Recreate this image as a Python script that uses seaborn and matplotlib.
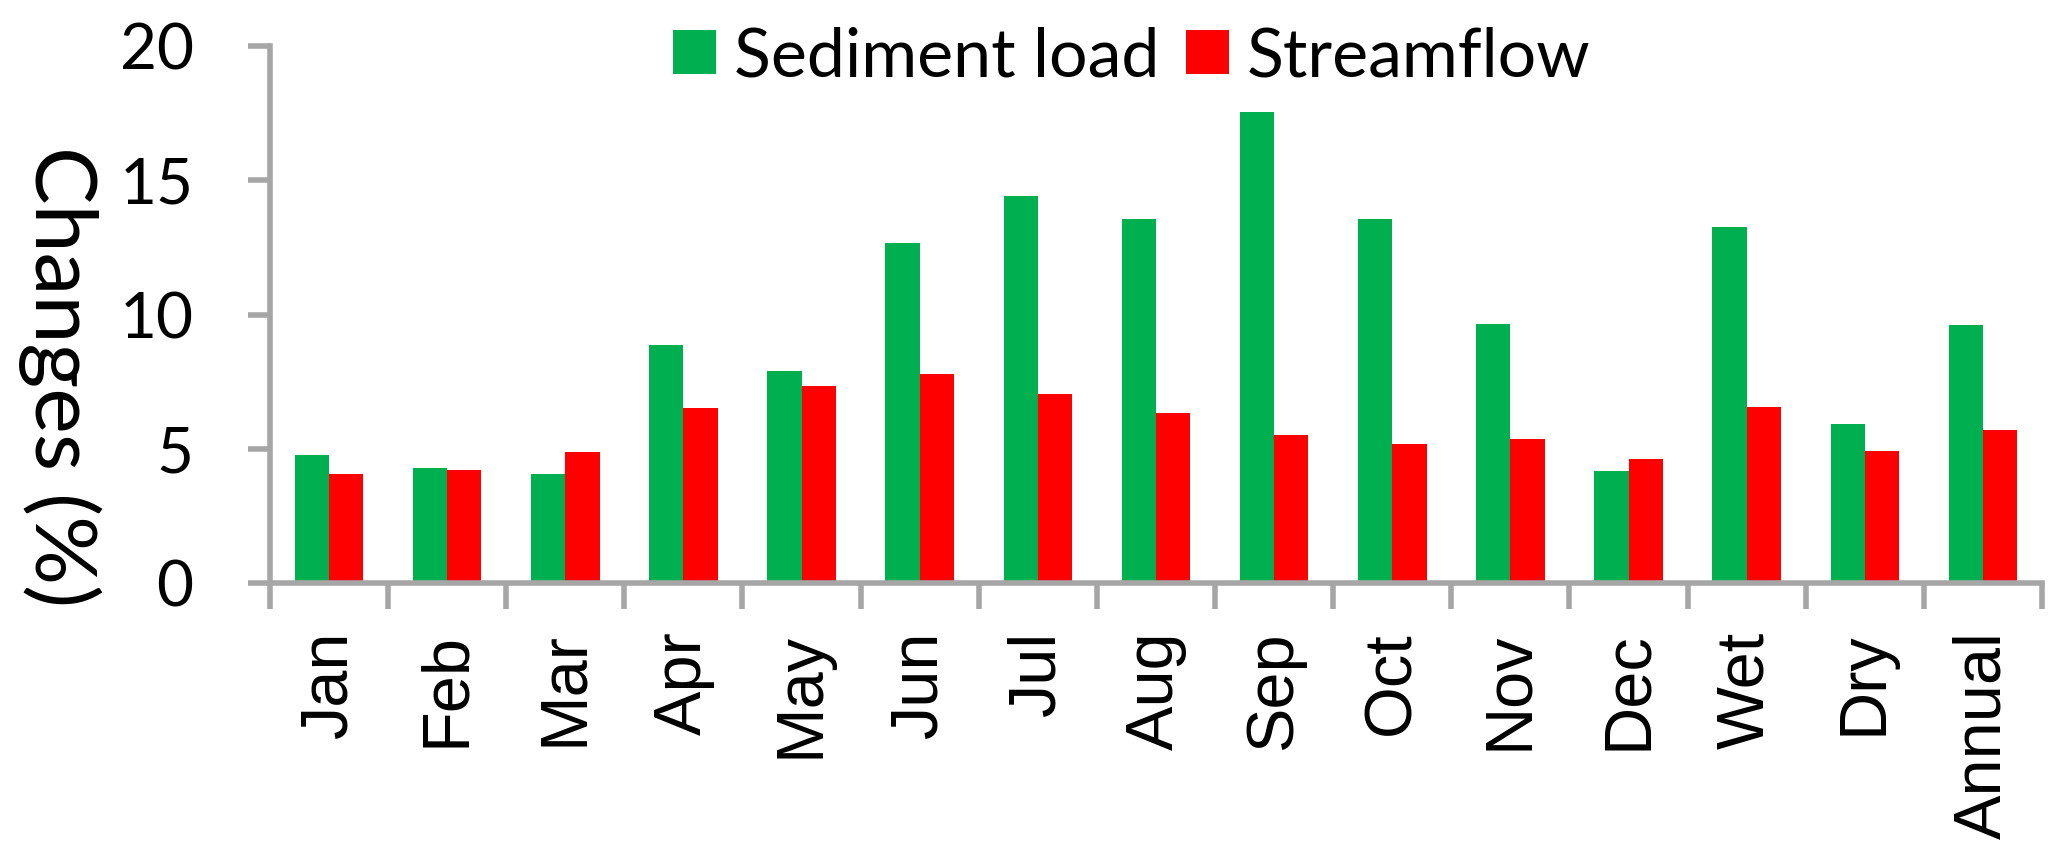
import numpy as np
import pandas as pd
import matplotlib
matplotlib.use("Agg")
import matplotlib.pyplot as plt
import seaborn as sns

categories = ["Jan", "Feb", "Mar", "Apr", "May", "Jun", "Jul", "Aug", "Sep",
              "Oct", "Nov", "Dec", "Wet", "Dry", "Annual"]
sediment_load = [4.76, 4.28, 4.07, 8.88, 7.89, 12.68, 14.43, 13.55, 17.55,
                 13.55, 9.64, 4.16, 13.25, 5.94, 9.61]
streamflow = [4.07, 4.19, 4.88, 6.50, 7.32, 7.80, 7.04, 6.35, 5.52,
              5.19, 5.37, 4.62, 6.54, 4.92, 5.71]
series_names = ["Sediment load", "Streamflow"]
yticks = [0, 5, 10, 15, 20]

GRAY = "#A6A6A6"
palette = {"Sediment load": "#00B050", "Streamflow": "#FF0000"}

df = pd.DataFrame({
    "category": categories * 2,
    "series": [series_names[0]] * len(categories) + [series_names[1]] * len(categories),
    "value": sediment_load + streamflow,
})

sns.set_style("white")
plt.rcParams["font.family"] = ["Lato", "DejaVu Sans"]
plt.rcParams["text.color"] = "black"
plt.rcParams["axes.labelcolor"] = "black"

fig = plt.figure(figsize=(20.67, 8.6), dpi=100)
ax = fig.add_axes([0.1306, 0.3221, 0.8573, 0.6244])

sns.barplot(data=df, x="category", y="value", hue="series", palette=palette,
            order=categories, hue_order=series_names, width=0.58, gap=0,
            linewidth=0, saturation=1, ax=ax)

ax.set_xlim(-0.5, len(categories) - 0.5)
ax.set_ylim(0, 20)
ax.set_yticks(yticks)
ax.set_xlabel("")

# y label reads top to bottom
ax.set_ylabel("Changes (%)", fontsize=62, rotation=270, rotation_mode="anchor",
              ha="center", va="center", color="black")
ax.yaxis.set_label_coords(-0.1185, 0.384)

sns.despine(ax=ax, top=True, right=True)
for side in ["left", "bottom"]:
    ax.spines[side].set_color(GRAY)
    ax.spines[side].set_linewidth(4)

# category boundaries as ticks, labels at centres
ax.set_xticks(np.arange(-0.5, len(categories), 1), minor=True)
ax.tick_params(axis="x", which="minor", bottom=True, length=18.5, width=4,
               color=GRAY, direction="out")
ax.tick_params(axis="x", which="major", bottom=True, length=0, pad=35,
               labelsize=48, labelrotation=90, labelcolor="black")
ax.tick_params(axis="y", which="major", left=True, length=16, width=4, color=GRAY,
               direction="out", pad=39, labelsize=46, labelcolor="black")
for lbl in ax.get_xticklabels():
    lbl.set_fontfamily(["Liberation Sans", "DejaVu Sans"])

sns.move_legend(ax, "center", bbox_to_anchor=(0.4864, 0.9795), ncol=2, title=None,
                frameon=False, fontsize=49, handlelength=0.63, handleheight=0.63,
                handletextpad=0.26, columnspacing=0.4, labelcolor="black")

fig.savefig("out.png", dpi=100)
